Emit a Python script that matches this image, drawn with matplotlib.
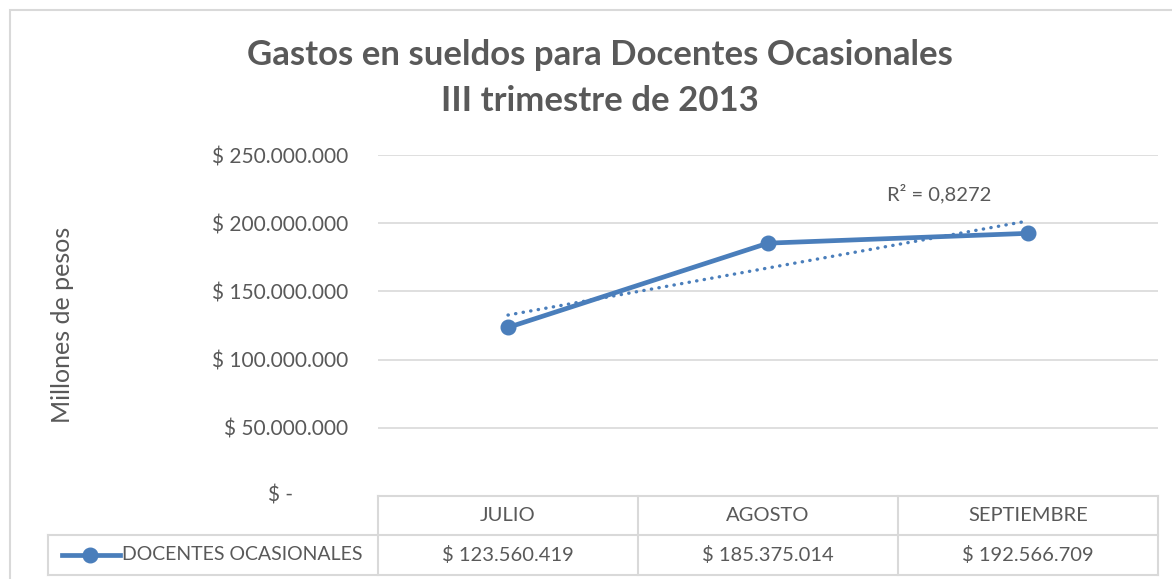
import numpy as np
import matplotlib.pyplot as plt
import matplotlib.transforms as mtransforms
from matplotlib.lines import Line2D
from matplotlib.ticker import FuncFormatter

meses = ['JULIO', 'AGOSTO', 'SEPTIEMBRE']
gastos = [123560419, 185375014, 192566709]
serie = 'DOCENTES OCASIONALES'

plt.rcParams['font.family'] = ['Lato', 'DejaVu Sans']
gris = '#595959'
borde = '#d9d9d9'
azul = '#4a7ebb'

W, H = 1172, 579
fig = plt.figure(figsize=(W / 100, H / 100), dpi=100)

def fx(px):
    return px / W

def fy(py):
    return 1 - py / H

# plot area
x0, x1, ytop, ybot = 378, 1158, 155, 496
ax = fig.add_axes([fx(x0), fy(ybot), fx(x1 - x0), (ybot - ytop) / H])

x = np.arange(1, len(gastos) + 1)
ax.plot(x, gastos, color=azul, lw=3.4, marker='o', ms=10.5, zorder=3)

# linear trendline + R2
coef = np.polyfit(x, gastos, 1)
pred = np.polyval(coef, x)
r2 = 1 - np.sum((np.array(gastos) - pred) ** 2) / np.sum((np.array(gastos) - np.mean(gastos)) ** 2)
ax.plot(x, pred, color=azul, lw=2.4, ls=(0, (0.1, 2.2)), dash_capstyle='round', zorder=2)
ax.text(2.66, 222e6, 'R² = ' + f'{r2:.4f}'.replace('.', ','), color=gris, fontsize=14.5,
        ha='center', va='center')

ax.set_xlim(0.5, len(gastos) + 0.5)
ax.set_ylim(0, 250e6)
ax.set_yticks(np.arange(0, 250e6 + 1, 50e6))

def fmt(v, pos):
    if v == 0:
        return ''
    return '$ ' + f'{int(v):,}'.replace(',', '.')

ax.yaxis.set_major_formatter(FuncFormatter(fmt))
ax.tick_params(axis='y', length=0, pad=21.6, labelsize=15, labelcolor=gris)
# zero label in accounting style
tr = mtransforms.blended_transform_factory(ax.transAxes, ax.transData)
tr = tr + mtransforms.ScaledTranslation(-85 / 100, 0, fig.dpi_scale_trans)
ax.text(0, 0, '$ -', transform=tr, ha='right', va='center', color=gris, fontsize=15)
ax.set_xticks([])
ax.grid(axis='y', color=borde, lw=1.2)
ax.set_axisbelow(True)
for s in ax.spines.values():
    s.set_visible(False)

fig.text(fx(62), fy(325), 'Millones de pesos', rotation=90, ha='center', va='center',
         color=gris, fontsize=18)

fig.text(fx(600), fy(55), 'Gastos en sueldos para Docentes Ocasionales', ha='center', va='center',
         color=gris, fontsize=25, fontweight='bold')
fig.text(fx(600), fy(101), 'III trimestre de 2013', ha='center', va='center',
         color=gris, fontsize=25, fontweight='bold')

# data table
def hline(xa, xb, y):
    fig.add_artist(Line2D([fx(xa), fx(xb)], [fy(y), fy(y)], color=borde, lw=1.5))

def vline(xx, ya, yb):
    fig.add_artist(Line2D([fx(xx), fx(xx)], [fy(ya), fy(yb)], color=borde, lw=1.5))

r0, r1, r2b = 496, 535, 575
hline(x0, x1, r0)
hline(48, x1, r1)
hline(48, x1, r2b)
vline(48, r1, r2b)
colw = (x1 - x0) / len(meses)
for i in range(len(meses) + 1):
    vline(x0 + i * colw, r0, r2b)
for i, (m, g) in enumerate(zip(meses, gastos)):
    cx = x0 + (i + 0.5) * colw
    fig.text(fx(cx), fy((r0 + r1) / 2), m, ha='center', va='center', color=gris, fontsize=14.5)
    fig.text(fx(cx), fy((r1 + r2b) / 2), '$ ' + f'{g:,}'.replace(',', '.'), ha='center',
             va='center', color=gris, fontsize=14.5)

fig.add_artist(Line2D([fx(62), fx(120)], [fy(555), fy(555)], color=azul, lw=3.4))
fig.add_artist(Line2D([fx(90)], [fy(555)], color=azul, marker='o', ms=10.5))
fig.text(fx(122), fy(555), serie, ha='left', va='center', color=gris, fontsize=14)

# chart border
fig.add_artist(plt.Rectangle((fx(10), fy(H + 5)), fx(W + 10), fy(10) - fy(H + 5), fill=False,
                             ec=borde, lw=1.5))

fig.savefig('out.png', dpi=100)
